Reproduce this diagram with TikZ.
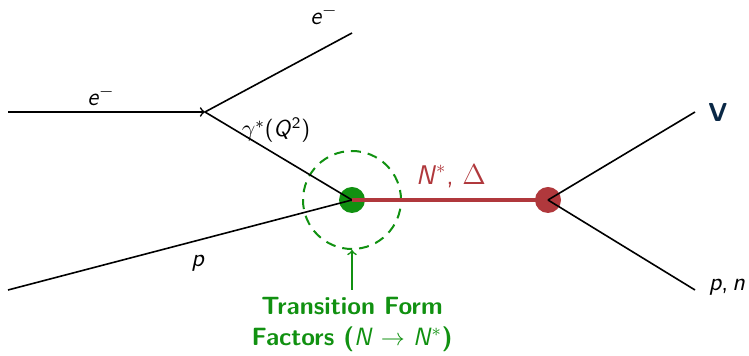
\documentclass[tikz,border=0pt]{standalone}
\usetikzlibrary{positioning}
\definecolor{tffgreen}{RGB}{17,145,17}
\definecolor{resred}{RGB}{176,56,60}
\definecolor{vnavy}{RGB}{10,40,70}
\newcommand{\vi}[1]{\textit{#1}}
\tikzset{
  lbl/.style={font=\fontsize{12.5}{14}\selectfont\sffamily},
  leg/.style={draw=black, thick},
  blob/.style={circle, inner sep=0pt, minimum size=13pt},
}
\begin{document}
\begin{tikzpicture}[x=0.5pt, y=-0.5pt]
            \useasboundingbox (0,0) rectangle (749,356);
            % vertices
            \coordinate (ein) at (8,112);
            \coordinate (eout) at (352,33);
            \coordinate (pin) at (8,290);
            \coordinate (vtx) at (205,112);
            \coordinate (vout) at (695,112);
            \coordinate (pnout) at (695,290);
            \node[blob, fill=tffgreen] (tff) at (352,200) {};
            \node[blob, fill=resred] (dec) at (548,200) {};
            \node[circle, draw=tffgreen, line width=1pt, dash pattern=on 5pt off 3.5pt, minimum size=49pt] (ring) at (352,200) {};
            % electron lines
            \draw[leg, ->] (ein) -- (vtx);
            \draw[leg] (vtx) -- (eout);
            \draw[leg] (vtx) -- (tff.center);
            \draw[leg] (pin) -- (tff.center);
            % resonance
            \draw[draw=resred, line width=2pt] (tff.center) -- (dec.center);
            \draw[leg] (dec.center) -- (vout);
            \draw[leg] (dec.center) -- (pnout);
            % labels
            \node[lbl] (le1) at (101,96) {\vi{e}$^-$};
            \node[lbl] (le2) at (324,15) {\vi{e}$^-$};
            \node[lbl, font=\fontsize{11.5}{14}\selectfont\sffamily] (lgam) at (276,130) {$\gamma^*$(\vi{Q}\textsuperscript{2})};
            \node[lbl] (lp) at (198,263) {\vi{p}};
            \node[lbl, text=resred, font=\fontsize{13.5}{15}\selectfont\sffamily] (lres) at (451,176) {\vi{N}$^*$, $\Delta$};
            \node[lbl, text=vnavy, font=\fontsize{13}{15}\selectfont\sffamily\bfseries] (lv) at (718,112) {V};
            \node[lbl] (lpn) at (727,287) {\vi{p},\,\vi{n}};
            \node[lbl, text=tffgreen, align=center, font=\fontsize{12.5}{15.5}\selectfont\sffamily\bfseries] (ltff) at (352,324) {Transition Form\\Factors ({\mdseries\vi{N} $\to$ \vi{N}$^*$})};
            \draw[draw=tffgreen, thick, ->] (ltff.north) -- (ring.south);
\end{tikzpicture}
\end{document}
